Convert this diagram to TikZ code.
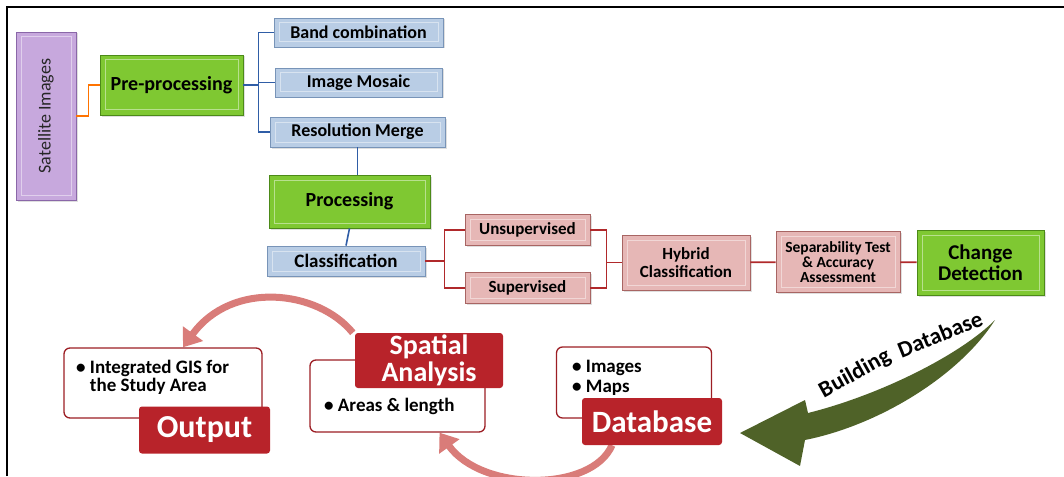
\documentclass[tikz,border=0pt]{standalone}
\usepackage{fontspec}
\setmainfont{Carlito}
\usetikzlibrary{positioning,arrows.meta,backgrounds,shadows}

\definecolor{satfill}{HTML}{C7A8DD}
\definecolor{satline}{HTML}{8A67A8}
\definecolor{grnfill}{HTML}{7FC832}
\definecolor{grnline}{HTML}{4C8A18}
\definecolor{blufill}{HTML}{B9CDE5}
\definecolor{bluline}{HTML}{7894B8}
\definecolor{blulink}{HTML}{2F5DA6}
\definecolor{pnkfill}{HTML}{E6B7B6}
\definecolor{pnkline}{HTML}{A86563}
\definecolor{redlink}{HTML}{B0292B}
\definecolor{redbox}{HTML}{B8232A}
\definecolor{arcred}{HTML}{D97C79}
\definecolor{arrgreen}{HTML}{4F6228}

\begin{document}
\begin{tikzpicture}[x=1pt, y=-1pt] %chaîne de traitement
    \tikzstyle{bevel} = [draw, line width=0.8pt, inner sep=0pt, text centered, align=center,
        drop shadow={opacity=0.25, shadow xshift=1.5pt, shadow yshift=-1.5pt},
        path picture={\draw[white, opacity=0.45, line width=1pt]
            ([shift={(5pt,5pt)}]path picture bounding box.south west) rectangle
            ([shift={(-5pt,-5pt)}]path picture bounding box.north east);}]
    \tikzstyle{satbox} = [bevel, fill=satfill, draw=satline, text=black!85, font=\fontsize{18}{20}\selectfont]
    \tikzstyle{greenbox} = [bevel, fill=grnfill, draw=grnline, font=\bfseries\fontsize{20}{22}\selectfont]
    \tikzstyle{bluebox} = [bevel, fill=blufill, draw=bluline, font=\bfseries\fontsize{18}{20}\selectfont]
    \tikzstyle{pinkbox} = [bevel, fill=pnkfill, draw=pnkline, font=\bfseries\fontsize{17}{18}\selectfont]
    \tikzstyle{notebox} = [draw=redbox!85!black, line width=1.3pt, rounded corners=6pt, fill=white]
    \tikzstyle{redtitle} = [fill=redbox, rounded corners=3pt, text=white, inner sep=0pt, align=center,
        font=\bfseries\fontsize{31}{31}\selectfont]
    \tikzstyle{notetext} = [inner sep=0pt, align=left]
    \tikzstyle{bluelink} = [draw=blulink, line width=1.6pt]
    \tikzstyle{redline} = [draw=redlink, line width=1.6pt]
    \tikzstyle{cyclearrow} = [draw=arcred, line width=7pt, -{Triangle[width=24pt,length=17pt]}]
    \tikzstyle{arrowword} = [inner sep=0pt, font=\bfseries\fontsize{23}{23}\selectfont]

    % cadre
    \useasboundingbox (0,0) rectangle (1064,476);
    \draw[line width=2.6pt] (7,476) -- (7,7) -- (1064,7);

    % prétraitement
    \node[satbox, minimum width=60, minimum height=168] (sat) at (46,116) {\rotatebox{90}{Satellite Images}};
    \node[greenbox, minimum width=143, minimum height=60] (pre) at (171.5,85) {Pre-processing};
    \node[bluebox, minimum width=169, minimum height=29] (band) at (358.5,32.5) {Band combination};
    \node[bluebox, minimum width=167, minimum height=29] (mosaic) at (358.5,82.5) {Image Mosaic};
    \node[bluebox, minimum width=175, minimum height=30] (merge) at (357.5,132) {Resolution Merge};
    \draw[draw=orange!90!red, line width=1.6pt] (sat.east) -- ++(12,0) |- (pre.west);
    \draw[bluelink] (pre.east) -- ++(15,0) coordinate (bj);
    \foreach \b in {band,mosaic,merge}
    {
        \draw[bluelink] (bj) |- (\b.west);
    }

    % traitement
    \node[greenbox, minimum width=161, minimum height=53] (proc) at (349.5,201.5) {Processing};
    \node[bluebox, minimum width=158, minimum height=30, font=\bfseries\fontsize{19}{21}\selectfont] (class) at (346,261) {Classification};
    \node[pinkbox, minimum width=125, minimum height=31] (unsup) at (527.5,230) {Unsupervised};
    \node[pinkbox, minimum width=125, minimum height=31] (sup) at (527.5,288) {Supervised};
    \node[pinkbox, minimum width=128, minimum height=55] (hybrid) at (686,262.5) {Hybrid\\Classification};
    \node[pinkbox, minimum width=124, minimum height=61, font=\bfseries\fontsize{15.5}{15}\selectfont] (sep) at (838,262) {Separability Test\\\& Accuracy\\Assessment};
    \node[greenbox, minimum width=127, minimum height=65, font=\bfseries\fontsize{21}{21}\selectfont] (change) at (980.5,262.5) {Change\\Detection};
    \draw[bluelink] (merge.south) -- (merge.south |- proc.north);
    \draw[bluelink] (proc.south) -- (class.north);
    \draw[redline] (class.east) -- ++(19,0) coordinate (cj);
    \draw[redline] (cj) |- (unsup.west);
    \draw[redline] (cj) |- (sup.west);
    \draw[redline] (unsup.east) -- ++(16,0) |- (hybrid.west);
    \draw[redline] (sup.east) -- ++(16,0) |- (hybrid.west);
    \draw[redline] (hybrid) -- (sep) -- (change);

    % base de données, analyse, résultat
    \node[notebox, minimum width=198, minimum height=70] (outnote) at (163,383) {};
    \node[notebox, minimum width=175, minimum height=72] (spnote) at (397.5,396) {};
    \node[notebox, minimum width=155, minimum height=71] (dbnote) at (634,382.5) {};
    \node[notetext, anchor=north west, font=\bfseries\fontsize{19}{17.5}\selectfont] (outtxt) at (76,360) {\textbullet\ Integrated GIS for\\\phantom{\textbullet\ }the Study Area};
    \node[notetext, anchor=base west, font=\bfseries\fontsize{19}{19}\selectfont] (sptxt) at (324,411) {\textbullet\ Areas \& length};
    \node[notetext, anchor=north west, font=\bfseries\fontsize{19}{20}\selectfont] (dbtxt) at (572,360) {\textbullet\ Images\\\textbullet\ Maps};
    \node[redtitle, minimum width=131, minimum height=47, font=\bfseries\fontsize{32}{32}\selectfont] (output) at (204.5,430) {Output};
    \node[redtitle, minimum width=148, minimum height=55, font=\bfseries\fontsize{28}{27}\selectfont] (spatial) at (429,360.5) {Spatial\\Analysis};
    \node[redtitle, minimum width=140, minimum height=47] (database) at (652,421.5) {Database};

    \begin{scope}[on background layer]
        \draw[cyclearrow] ([shift={(-2pt,0pt)}]spatial.north west) .. controls (318,290) and (232,280) .. ([xshift=20]outnote.north);
        \draw[cyclearrow] ([xshift=-40]database.south) .. controls (592,492) and (482,492) .. ([xshift=42]spnote.south);
    \end{scope}

    % flèche verte
    \coordinate (tail) at (995,320);
    \coordinate (tip) at (740,433);
    \fill[arrgreen] (tail) .. controls (960,355) and (880,395) .. (808,413)
        -- (805,400) -- (tip) -- (800,466) -- (805,440)
        .. controls (880,425) and (960,375) .. (tail);
    \node[arrowword, rotate=29] (bld) at (855,374) {Building};
    \node[arrowword, rotate=22] (bdb) at (940,334) {Database};
\end{tikzpicture}
\end{document}
